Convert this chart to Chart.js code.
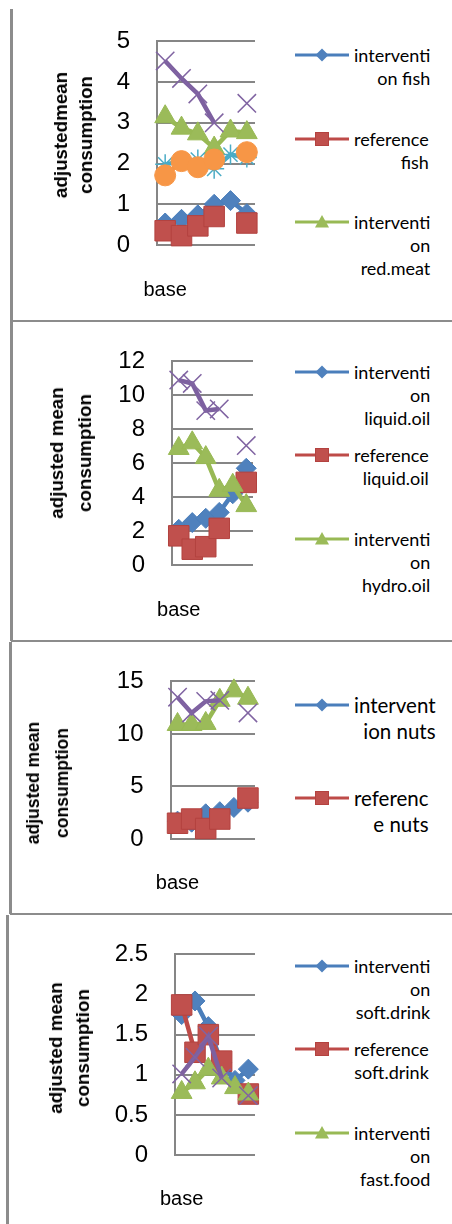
<!DOCTYPE html>
<html>
<head>
<meta charset="utf-8">
<script src="https://cdn.jsdelivr.net/npm/chart.js@4.4.1/dist/chart.umd.min.js"></script>
<style>
  body { margin: 0; background: #fff; width: 452px; height: 1224px; position: relative; overflow: hidden; }
  .rule { position: absolute; background: #8c8c8c; }
  canvas { position: absolute; left: 0; }
  .ytitle { position: absolute; font-family: 'Liberation Sans', Arial, sans-serif; font-weight: bold; color: #000;
            white-space: nowrap; text-align: center; transform: translate(-50%, -50%) rotate(-90deg); }
  .legtext { position: absolute; font-family: Lato, 'Liberation Sans', sans-serif; color: #000; text-align: right; white-space: nowrap; }
  .legicon { position: absolute; }
</style>
</head>
<body>
<script>
// categories (only the first label is legible in the picture)
const categories = ['base', '', '', '', '', ''];

// panel 1: fish / red meat
const fishIntervention = [0.54, 0.63, 0.74, 1.0, 1.09, 0.77];
const fishReference = [0.35, 0.23, 0.47, 0.7, null, 0.54];
const redMeatIntervention = [3.15, 2.87, 2.73, 2.38, 2.8, 2.76];
const redMeatReference = [4.52, 4.09, 3.71, 3.0, null, 3.48];
const series5Intervention = [1.98, 2.06, 2.1, 1.87, 2.22, 2.15];
const series6Reference = [1.71, 2.06, 1.91, 2.1, null, 2.28];

// panel 2: liquid oil / hydrogenated oil
const liquidOilIntervention = [2.1, 2.5, 2.75, 3.1, 4.2, 5.7];
const liquidOilReference = [1.72, 0.93, 1.08, 2.16, null, 4.87];
const hydroOilIntervention = [6.87, 7.2, 6.33, 4.4, 4.7, 3.5];
const hydroOilReference = [10.9, 10.7, 9.1, 9.2, null, 7.04];

// panel 3: nuts
const nutsIntervention = [1.7, 1.6, 2.4, 2.6, 3.0, 3.5];
const nutsReference = [1.5, 1.9, 1.0, 1.9, null, 3.9];
const series3Intervention = [10.9, 10.9, 11.0, 13.2, 14.1, 13.4];
const series4Reference = [13.5, 12.0, 13.1, 13.2, null, 12.0];

// panel 4: soft drink / fast food
const softDrinkIntervention = [1.75, 1.92, 1.6, 1.15, 0.93, 1.07];
const softDrinkReference = [1.87, 1.28, 1.5, 1.17, null, 0.76];
const fastFoodIntervention = [0.78, 0.9, 1.07, 0.96, 0.84, 0.76];
const fastFoodReference = [1.01, 1.22, 1.48, 0.96, null, 0.74];

// y tick settings
const yMax = [5, 12, 15, 2.5];
const yStep = [1, 2, 5, 0.5];

// legend texts (wrapped like in the picture)
const legend1 = [['interventi', 'on fish'], ['reference', 'fish'], ['interventi', 'on', 'red.meat']];
const legend2 = [['interventi', 'on', 'liquid.oil'], ['reference', 'liquid.oil'], ['interventi', 'on', 'hydro.oil']];
const legend3 = [['intervent', 'ion nuts'], ['referenc', 'e nuts']];
const legend4 = [['interventi', 'on', 'soft.drink'], ['reference', 'soft.drink'], ['interventi', 'on', 'fast.food']];

const titles = [['adjustedmean', 'consumption'], ['adjusted mean', 'consumption'], ['adjusted mean', 'consumption'], ['adjusted mean', 'consumption']];

// marker styles, Excel 2007 palette
const STY = {
    blue:   { line: '#4A7EBB', fill: '#4F81BD', pb: '#4A7EBB', shape: 'rectRot',  r: 10,   bw: 1 },
    red:    { line: '#BE4B48', fill: '#C0504D', pb: '#B3423F', shape: 'rect',     r: 14.5, bw: 1 },
    green:  { line: '#98B954', fill: '#9BBB59', pb: '#98B954', shape: 'triangle', r: 12,   bw: 1 },
    purple: { line: '#7D60A0', fill: '#8064A2', pb: '#8064A2', shape: 'crossRot', r: 13,   bw: 1.5 },
    cyan:   { line: '#46AAC5', fill: '#4BACC6', pb: '#4BACC6', shape: 'star',     r: 10,   bw: 1.5 },
    orange: { line: '#F69240', fill: '#F79646', pb: '#F79646', shape: 'circle',   r: 10.5, bw: 1 }
};

function ds(label, data, st) {
    return {
        label: label, data: data,
        borderColor: st.line, backgroundColor: st.fill, borderWidth: 4.5,
        pointStyle: st.shape, pointRadius: st.r, pointHoverRadius: st.r,
        pointBackgroundColor: st.fill, pointBorderColor: st.pb, pointBorderWidth: st.bw,
        spanGaps: false, tension: 0, clip: false
    };
}

const panels = [
    { top: 0, bottom: 320, gridTop: 31, gridBottom: 245, left: 157, right: 255, labelPad: 25,
      title: { x: 72.5, y: 135, gap: 25, size: 18.8 }, legend: legend1, legY: [55, 139, 222], legSize: 18, legLh: 23,
      datasets: [ds('intervention fish', fishIntervention, STY.blue), ds('reference fish', fishReference, STY.red),
                 ds('intervention red.meat', redMeatIntervention, STY.green), ds('reference red.meat', redMeatReference, STY.purple),
                 ds('intervention 3', series5Intervention, STY.cyan), ds('reference 3', series6Reference, STY.orange)] },
    { top: 320, bottom: 640, gridTop: 343, gridBottom: 565, left: 172, right: 253, labelPad: 25,
      title: { x: 71, y: 453, gap: 28, size: 18.8 }, legend: legend2, legY: [372, 455, 539], legSize: 18, legLh: 23,
      datasets: [ds('intervention liquid.oil', liquidOilIntervention, STY.blue), ds('reference liquid.oil', liquidOilReference, STY.red),
                 ds('intervention hydro.oil', hydroOilIntervention, STY.green), ds('reference hydro.oil', hydroOilReference, STY.purple)] },
    { top: 640, bottom: 913, gridTop: 668, gridBottom: 839, left: 170.5, right: 255, labelPad: 24,
      title: { x: 47.5, y: 783, gap: 29, size: 17.5 }, legend: legend3, legY: [705, 798], legSize: 20.5, legLh: 26,
      datasets: [ds('intervention nuts', nutsIntervention, STY.blue), ds('reference nuts', nutsReference, STY.red),
                 ds('intervention 2', series3Intervention, STY.green), ds('reference 2', series4Reference, STY.purple)] },
    { top: 913, bottom: 1224, gridTop: 941, gridBottom: 1155, left: 175, right: 255, labelPad: 24,
      title: { x: 68.5, y: 1048, gap: 27, size: 18.8 }, legend: legend4, legY: [966, 1049, 1133], legSize: 18, legLh: 23,
      datasets: [ds('intervention soft.drink', softDrinkIntervention, STY.blue), ds('reference soft.drink', softDrinkReference, STY.red),
                 ds('intervention fast.food', fastFoodIntervention, STY.green), ds('reference fast.food', fastFoodReference, STY.purple)] }
];

// frame lines
[[10, 9, 3, 312], [11, 320, 441, 2], [10, 321, 3, 320], [11, 640, 441, 2],
 [9, 642, 2.5, 272], [10, 913, 442, 2], [6, 915, 2.5, 309]].forEach(r => {
    const d = document.createElement('div');
    d.className = 'rule';
    d.style.cssText = `left:${r[0]}px;top:${r[1]}px;width:${r[2]}px;height:${r[3]}px`;
    document.body.appendChild(d);
});

const CW = 280;

function legendIcon(st, x, y) {
    const ns = 'http://www.w3.org/2000/svg';
    const svg = document.createElementNS(ns, 'svg');
    svg.setAttribute('width', 54);
    svg.setAttribute('height', 18);
    svg.setAttribute('class', 'legicon');
    svg.style.left = x + 'px';
    svg.style.top = (y - 9) + 'px';
    let html = `<line x1="0" y1="9" x2="54" y2="9" stroke="${st.line}" stroke-width="3"/>`;
    if (st.shape === 'rectRot') html += `<polygon points="20.5,9 27,2.5 33.5,9 27,15.5" fill="${st.fill}"/>`;
    if (st.shape === 'rect') html += `<rect x="20.5" y="2.5" width="13" height="13" fill="${st.fill}" stroke="${st.pb}" stroke-width="1"/>`;
    if (st.shape === 'triangle') html += `<polygon points="27,2 34,14.5 20,14.5" fill="${st.fill}"/>`;
    svg.innerHTML = html;
    document.body.appendChild(svg);
}

panels.forEach((p, i) => {
    const cv = document.createElement('canvas');
    const h = p.bottom - p.top;
    cv.width = CW; cv.height = h;
    cv.style.top = p.top + 'px';
    document.body.appendChild(cv);

    p.datasets.forEach((d, k) => { d.order = p.datasets.length - k; });

    new Chart(cv.getContext('2d'), {
        type: 'line',
        data: { labels: categories, datasets: p.datasets },
        options: {
            responsive: false,
            animation: false,
            events: [],
            layout: { padding: { top: p.gridTop - p.top, right: CW - p.right, left: 0, bottom: 0 } },
            plugins: { legend: { display: false }, tooltip: { enabled: false } },
            scales: {
                x: {
                    offset: true,
                    grid: { display: false },
                    border: { display: false },
                    ticks: { autoSkip: false, maxRotation: 0, padding: p.labelPad, color: '#000',
                             font: { family: "'Liberation Sans', Arial, sans-serif", size: 20, lineHeight: 1.2 } },
                    afterFit: s => { s.height = p.bottom - p.gridBottom; }
                },
                y: {
                    min: 0, max: yMax[i],
                    ticks: { stepSize: yStep[i], padding: 27, color: '#000',
                             font: { family: "'Liberation Sans', Arial, sans-serif", size: 24 },
                             callback: v => String(v) },
                    grid: { color: '#868686', lineWidth: 2, drawTicks: false },
                    border: { display: true, color: '#868686', width: 2 },
                    afterFit: s => { s.width = p.left; }
                }
            }
        }
    });

    const t = document.createElement('div');
    t.className = 'ytitle';
    t.style.left = p.title.x + 'px';
    t.style.top = p.title.y + 'px';
    t.style.fontSize = p.title.size + 'px';
    t.style.lineHeight = p.title.gap + 'px';
    t.innerHTML = titles[i].join('<br>');
    document.body.appendChild(t);

    p.legend.forEach((lines, k) => {
        const st = [STY.blue, STY.red, STY.green][k];
        legendIcon(st, 295, p.legY[k]);
        const d = document.createElement('div');
        d.className = 'legtext';
        d.style.left = '354px';
        d.style.top = (p.legY[k] - p.legLh / 2) + 'px';
        d.style.fontSize = p.legSize + 'px';
        d.style.lineHeight = p.legLh + 'px';
        d.innerHTML = lines.join('<br>');
        document.body.appendChild(d);
    });
});
</script>
</body>
</html>
